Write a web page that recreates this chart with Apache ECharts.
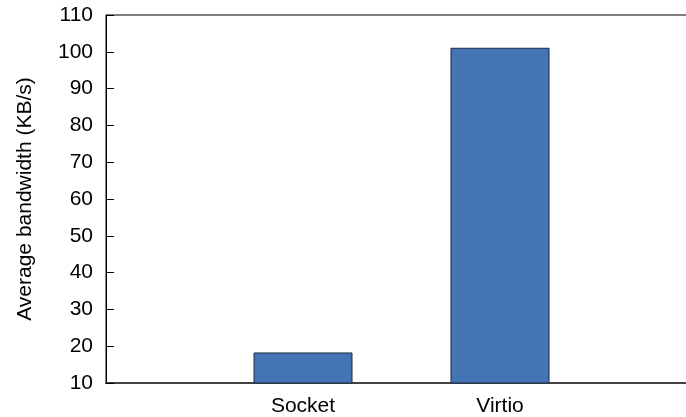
<!DOCTYPE html>
<html>
<head>
<meta charset="utf-8">
<script src="https://cdn.jsdelivr.net/npm/echarts@6/dist/echarts.min.js"></script>
<style>
  html, body { margin: 0; padding: 0; background: #fff; }
  #chart { width: 686px; height: 417px; }
</style>
</head>
<body>
<div id="chart"></div>
<script>
// categories (blank ones pad the axis ends)
const categories = ['', 'Socket', 'Virtio', '']
const bandwidth = [null, 18.3, 101.1, null]
const yMin = 10
const yMax = 110
const yStep = 10

const chart = echarts.init(document.getElementById('chart'))
chart.setOption({
  animation: false,
  grid: {
    left: 106,
    right: -11,
    top: 15,
    bottom: 34,
    outerBoundsMode: 'none',
    containLabel: false,
    show: true,
    borderColor: '#000',
    borderWidth: 1
  },
  xAxis: {
    type: 'category',
    data: categories,
    boundaryGap: false,
    axisLine: { lineStyle: { color: '#444', width: 2 } },
    axisTick: { show: false },
    axisLabel: {
      color: '#000',
      fontSize: 21,
      fontFamily: 'Liberation Sans',
      margin: 13
    }
  },
  yAxis: {
    type: 'value',
    min: yMin,
    max: yMax,
    interval: yStep,
    name: 'Average bandwidth (KB/s)',
    nameLocation: 'middle',
    nameGap: 70,
    nameTextStyle: { color: '#000', fontSize: 21, fontFamily: 'Liberation Sans' },
    axisLine: { show: true, lineStyle: { color: '#000', width: 1 } },
    axisTick: { show: true, inside: true, length: 8, lineStyle: { color: '#000' } },
    splitLine: { show: false },
    axisLabel: {
      color: '#000',
      fontSize: 21,
      fontFamily: 'Liberation Sans',
      margin: 13
    }
  },
  series: [{
    type: 'bar',
    data: bandwidth,
    barWidth: 99,
    itemStyle: { color: '#4574b5', borderColor: '#1c2840', borderWidth: 1 }
  }]
})
</script>
</body>
</html>
